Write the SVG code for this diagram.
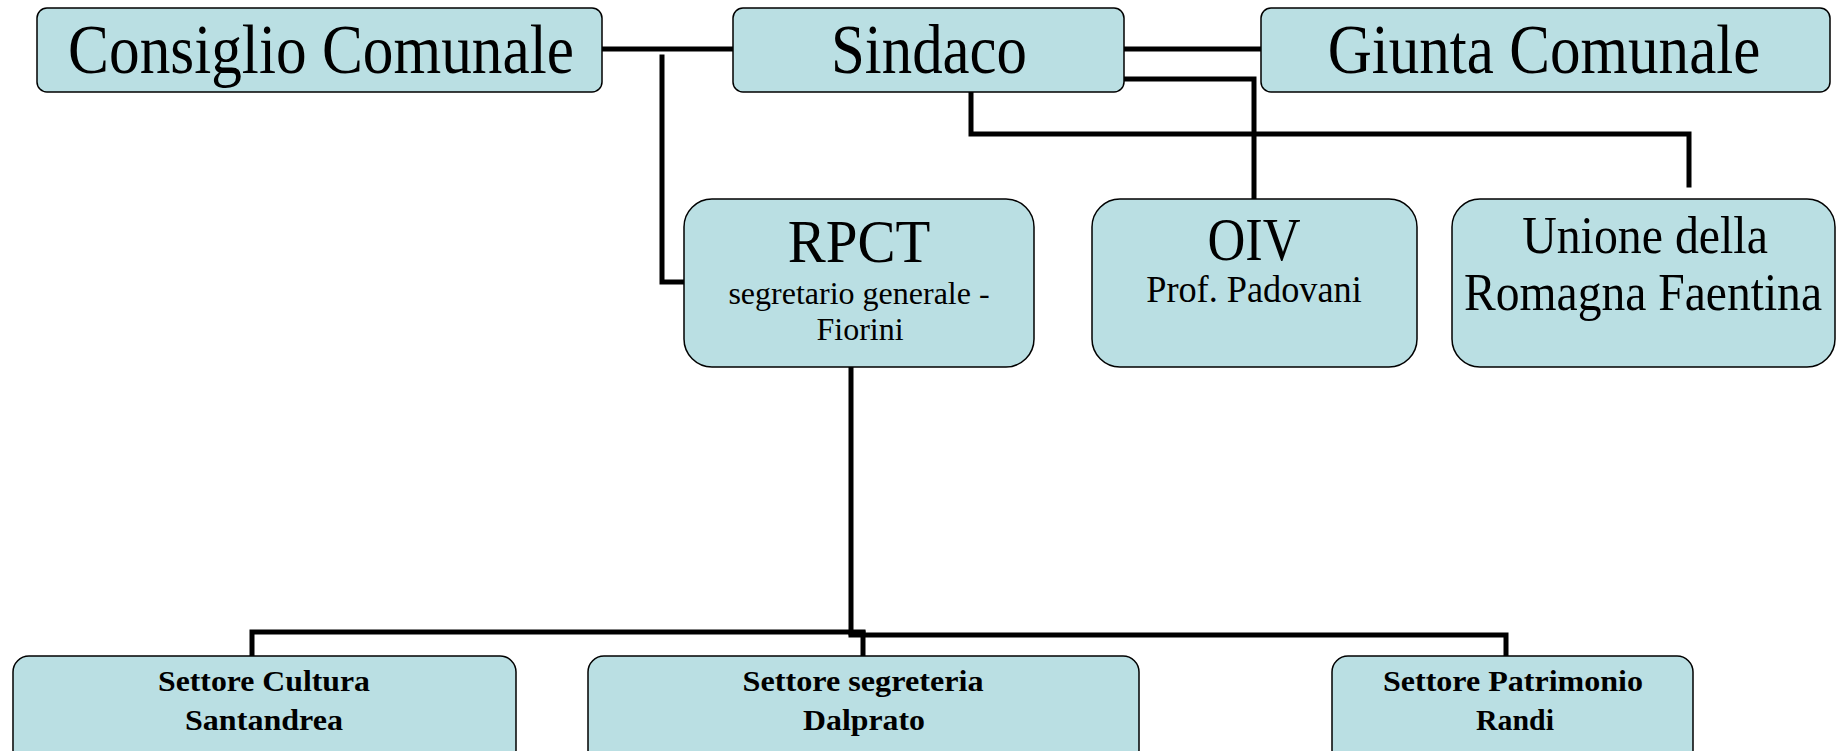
<svg xmlns="http://www.w3.org/2000/svg" width="1836" height="751" viewBox="0 0 1836 751">
<style>
.box{fill:#badfe3;stroke:#000;stroke-width:1.5}
.t{font-family:"Liberation Serif","Times New Roman",serif;fill:#000;text-anchor:middle}
.big{font-size:70px}
.hd{font-size:62px}
.mid{font-size:52px}
.sm{font-size:32px}
.b{font-size:30px;font-weight:bold}
.c{fill:none;stroke:#000;stroke-width:5;stroke-linecap:square}
</style>
<rect width="1836" height="751" fill="#fff"/>
<g id="connectors">
<path class="c" d="M602,49 H733"/>
<path class="c" d="M662,57 V282 H684"/>
<path class="c" d="M1124,49 H1261"/>
<path class="c" d="M1124,79 H1254 V199"/>
<path class="c" d="M971,83 V134 H1689 V185"/>
<path class="c" d="M851,367 V633"/>
<path class="c" d="M252,656 V632 H863"/>
<path class="c" d="M851,635 H1506 V656"/>
<path class="c" d="M863,633 V656"/>
</g>
<g id="consiglio">
<rect class="box" x="37" y="8" width="565" height="84" rx="10"/>
<text class="t big" transform="translate(321,73) scale(0.876,1)">Consiglio Comunale</text>
</g>
<g id="sindaco">
<rect class="box" x="733" y="8" width="391" height="84" rx="10"/>
<text class="t big" transform="translate(929,73) scale(0.869,1)">Sindaco</text>
</g>
<g id="giunta">
<rect class="box" x="1261" y="8" width="569" height="84" rx="10"/>
<text class="t big" transform="translate(1544,73) scale(0.873,1)">Giunta Comunale</text>
</g>
<g id="rpct">
<rect class="box" x="684" y="199" width="350" height="168" rx="28"/>
<text class="t hd" transform="translate(859,262) scale(0.92,1)">RPCT</text>
<text class="t sm" x="859" y="304">segretario generale -</text>
<text class="t sm" x="860" y="340">Fiorini</text>
</g>
<g id="oiv">
<rect class="box" x="1092" y="199" width="325" height="168" rx="28"/>
<text class="t hd" transform="translate(1254,260) scale(0.845,1)">OIV</text>
<text class="t sm" style="font-size:37px" transform="translate(1254,302) scale(0.98,1)">Prof. Padovani</text>
</g>
<g id="unione">
<rect class="box" x="1452" y="199" width="383" height="168" rx="28"/>
<text class="t mid" transform="translate(1645,253) scale(0.92,1)">Unione della</text>
<text class="t mid" transform="translate(1643,310) scale(0.915,1)">Romagna Faentina</text>
</g>
<g id="cultura">
<rect class="box" x="13" y="656" width="503" height="110" rx="16"/>
<text class="t b" x="264" y="691" textLength="212" lengthAdjust="spacingAndGlyphs">Settore Cultura</text>
<text class="t b" x="264" y="730" textLength="158" lengthAdjust="spacingAndGlyphs">Santandrea</text>
</g>
<g id="segreteria">
<rect class="box" x="588" y="656" width="551" height="110" rx="16"/>
<text class="t b" x="863" y="691" textLength="241" lengthAdjust="spacingAndGlyphs">Settore segreteria</text>
<text class="t b" x="864" y="730" textLength="122" lengthAdjust="spacingAndGlyphs">Dalprato</text>
</g>
<g id="patrimonio">
<rect class="box" x="1332" y="656" width="361" height="110" rx="16"/>
<text class="t b" x="1513" y="691" textLength="260" lengthAdjust="spacingAndGlyphs">Settore Patrimonio</text>
<text class="t b" x="1515" y="730" textLength="78" lengthAdjust="spacingAndGlyphs">Randi</text>
</g>
</svg>
